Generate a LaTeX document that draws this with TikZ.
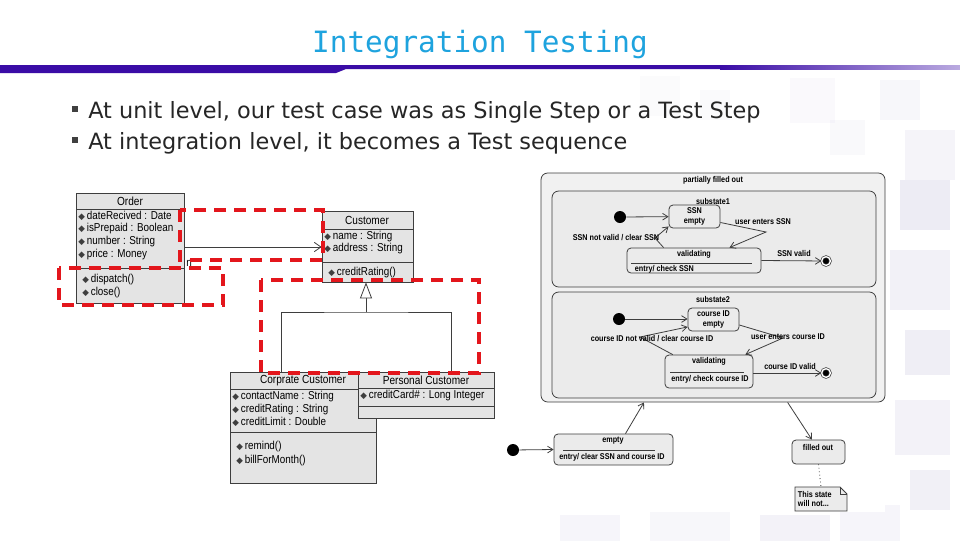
\documentclass[tikz,border=0pt]{standalone}
\usepackage{fontspec}
\usepackage{xcolor}
\usetikzlibrary{arrows.meta, positioning, fit, backgrounds}

\newfontfamily\titlefont{DejaVu Sans Mono}
\newfontfamily\bodyfont{DejaVu Sans}
\newfontfamily\umlfont[FakeStretch=0.86]{Liberation Sans}
\newfontfamily\symfont{DejaVu Sans}

\definecolor{titlecyan}{HTML}{1EA3DE}
\definecolor{barpurple}{HTML}{3A0CA6}
\definecolor{clsfill}{HTML}{E4E4E4}
\definecolor{clsline}{HTML}{3E3E3E}
\definecolor{stfill}{HTML}{EBEBEB}
\definecolor{redmark}{HTML}{E3161C}
\definecolor{mosaic}{HTML}{B9B4D6}

\newcommand{\attico}{{\symfont\fontsize{6.5}{6.5}\selectfont\color{clsline}◆}\,}

\begin{document}
\begin{tikzpicture}[x=0.75pt, y=-0.75pt,
  cls/.style={rectangle, draw=clsline, fill=clsfill, line width=0.6pt, inner sep=0pt},
  clsname/.style={font=\umlfont\fontsize{8.8}{10}\selectfont},
  clstext/.style={font=\umlfont\fontsize{8.6}{10}\selectfont, anchor=west, inner sep=0pt},
  sepline/.style={draw=clsline, line width=0.6pt},
  assoc/.style={-{Straight Barb[length=5pt, width=7pt]}, draw=clsline, line width=0.6pt},
  gen/.style={draw=clsline, line width=0.6pt},
  genhead/.style={-{Triangle[open, length=12pt, width=9pt, fill=white]}, draw=clsline, line width=0.6pt},
  redbox/.style={draw=redmark, line width=3pt, dash pattern=on 9pt off 6pt},
  state/.style={rectangle, rounded corners=3pt, draw=clsline, fill=stfill, line width=0.6pt, inner sep=0pt},
  initst/.style={circle, fill=black, minimum size=9pt, inner sep=0pt},
  finalst/.style={circle, fill=black, draw=black!80, double=white, double distance=1pt,
                  line width=0.5pt, minimum size=6.5pt, inner sep=0pt},
  trans/.style={-{Straight Barb[length=4pt, width=5pt]}, draw=clsline, line width=0.6pt},
  stlbl/.style={font=\umlfont\bfseries\fontsize{6.3}{7}\selectfont, inner sep=0.5pt},
  bullettext/.style={font=\bodyfont\fontsize{16.8}{20}\selectfont, text=black!85, anchor=west, inner sep=0pt},
  bulletsq/.style={rectangle, fill=black!75, minimum size=4pt, inner sep=0pt},
]
\useasboundingbox (0,0) rectangle (960,540);
\fill[white] (0,0) rectangle (960,540);

% faint mosaic of the slide background
\foreach \x/\y/\w/\o in {640/76/40/0.05, 700/90/30/0.06, 790/78/45/0.07, 830/120/35/0.08,
    880/80/40/0.10, 905/130/50/0.14, 900/180/50/0.25, 890/250/60/0.18,
    905/330/45/0.22, 895/400/55/0.16, 910/470/40/0.20, 560/515/60/0.12, 650/512/80/0.10,
    760/515/70/0.16, 840/505/60/0.12}
  \fill[mosaic, opacity=\o] (\x,\y) rectangle ++(\w,\w);
\fill[white] (72,170) rectangle (885,512);

% title and header bar
\node[font=\titlefont\fontsize{22}{26}\selectfont, text=titlecyan] (title) at (480,45) {Integration Testing};
\fill[barpurple] (0,65) -- (960,65) -- (960,69) -- (346,69) -- (336,73) -- (0,73) -- cycle;
\shade[left color=barpurple, right color=barpurple!35] (720,65) rectangle (960,69);

% bullets
\node[bulletsq] (sq1) at (75,109) {};
\node[bullettext] (bul1) at (88,112) {At unit level, our test case was as Single Step or a Test Step};
\node[bulletsq] (sq2) at (75,140) {};
\node[bullettext] (bul2) at (88,143) {At integration level, it becomes a Test sequence};

% class diagram
\node[cls, fit={(76,193) (184,303)}] (order) {};
\draw[sepline] (76,209) -- (184,209);
\draw[sepline] (76,268) -- (184,268);
\node[clsname] (orderN) at (130,201) {Order};
\node[clstext] (ordA1) at (78,216) {\attico dateRecived : Date};
\node[clstext] (ordA2) at (78,229) {\attico isPrepaid : Boolean};
\node[clstext] (ordA3) at (78,242) {\attico number : String};
\node[clstext] (ordA4) at (78,255) {\attico price : Money};
\node[clstext] (ordM1) at (82,280) {\attico dispatch()};
\node[clstext] (ordM2) at (82,293) {\attico close()};

\node[cls, fit={(322,211) (413,282)}] (customer) {};
\draw[sepline] (322,229) -- (413,229);
\draw[sepline] (322,262) -- (413,262);
\node[clsname] (custN) at (367,220) {Customer};
\node[clstext] (custA1) at (324,237) {\attico name : String};
\node[clstext] (custA2) at (324,249) {\attico address : String};
\node[clstext] (custM1) at (328,273) {\attico creditRating()};

\node[cls, fit={(230,372) (376,483)}] (corp) {};
\draw[sepline] (230,389) -- (376,389);
\draw[sepline] (230,432) -- (376,432);
\node[clsname] (corpN) at (303,381) {Corprate Customer};
\node[clstext] (corpA1) at (232,397) {\attico contactName : String};
\node[clstext] (corpA2) at (232,410) {\attico creditRating : String};
\node[clstext] (corpA3) at (232,422) {\attico creditLimit : Double};
\node[clstext] (corpM1) at (236,447) {\attico remind()};
\node[clstext] (corpM2) at (236,461) {\attico billForMonth()};

\node[cls, fit={(358,372) (494,418)}] (pers) {};
\draw[sepline] (358,388) -- (494,388);
\draw[sepline] (358,406) -- (494,406);
\node[clsname] (persN) at (426,380) {Personal Customer};
\node[clstext] (persA1) at (360,396) {\attico creditCard\# : Long Integer};

\draw[assoc] (order.east |- 0,247) -- (customer.west |- 0,247);
\node[clstext] (mult) at (186,263) {n};

\coordinate (genbar) at (366,312);
\draw[gen] (corp.north -| 281,0) |- (genbar) -| (pers.north -| 451,0);
\draw[genhead] (genbar) -- (customer.south -| genbar);

% highlighted parts
\draw[redbox] (180,210) rectangle (323,260);
\draw[redbox] (59,268) rectangle (223,305);
\draw[redbox] (261,280) rectangle (479,373);

% state diagram
\node[state, rounded corners=5pt, fill=stfill!70!white, fit={(541,173) (885,402)}] (psf) {};
\node[stlbl] (psfN) at (713,180) {partially filled out};

\node[state, rounded corners=5pt, fit={(552,191) (876,287)}] (sub1) {};
\node[stlbl] (sub1N) at (713,201) {substate1};
\node[state, fit={(669,205) (720,228)}] (ssn) {};
\node[stlbl, align=center] (ssnN) at (ssn.center) {SSN\\empty};
\node[initst] (i1) at (620,217) {};
\node[state, fit={(627,248) (761,273)}] (val1) {};
\node[stlbl] (val1N) at (694,254) {validating};
\draw[sepline] (631,263) -- (752,263);
\node[stlbl, anchor=west] (val1E) at (634,269) {entry/ check SSN};
\node[finalst] (f1) at (826,261) {};
\coordinate (k1) at (766,232);
\coordinate (k2) at (655,238);
\draw[trans] (i1) -- (ssn);
\draw[trans] (ssn.-13) -- (k1) -- (val1.20);
\draw[trans] (val1.157) -- (k2) -- (ssn.201);
\draw[trans] (val1.east) -- (f1);
\node[stlbl] (l1) at (763,222) {user enters SSN};
\node[stlbl] (l2) at (616,238) {SSN not valid / clear SSN};
\node[stlbl] (l3) at (794,253) {SSN valid};

\node[state, rounded corners=5pt, fit={(552,292) (876,398)}] (sub2) {};
\node[stlbl] (sub2N) at (713,299) {substate2};
\node[state, fit={(688,308) (739,331)}] (cid) {};
\node[stlbl, align=center] (cidN) at (cid.center) {course ID\\empty};
\node[initst] (i2) at (619,319) {};
\node[state, fit={(665,355) (753,388)}] (val2) {};
\node[stlbl] (val2N) at (709,361) {validating};
\draw[sepline] (670,372) -- (744,372);
\node[stlbl] (val2E) at (710,379) {entry/ check course ID};
\node[finalst] (f2) at (826,373) {};
\coordinate (k3) at (783,338);
\coordinate (k4) at (640,337);
\draw[trans] (i2) -- (cid.west |- i2);
\draw[trans] (cid.-12) -- (k3) -- (val2.25);
\draw[trans] (val2.155) -- (k4) -- (cid.196);
\draw[trans] (val2.east |- f2) -- (f2);
\node[stlbl] (l4) at (788,337) {user enters course ID};
\node[stlbl] (l5) at (652,339) {course ID not valid / clear course ID};
\node[stlbl] (l6) at (790,366) {course ID valid};

\node[state, fit={(554,434) (673,465)}] (empty) {};
\node[stlbl] (emptyN) at (613,441) {empty};
\draw[sepline] (563,450) -- (655,450);
\node[stlbl] (emptyE) at (612,457) {entry/ clear SSN and course ID};
\node[initst] (i3) at (513,450) {};
\draw[trans] (i3) -- (empty.west);
\draw[trans] (empty.53) -- (psf.239);

\node[state, fit={(792,440) (845,464)}] (filled) {};
\node[stlbl] (filledN) at (818,447) {filled out};
\draw[trans] (psf.-57) -- (filled.118);

\node[inner sep=0pt, fit={(795,487) (847,511)}] (note) {};
\draw[fill=stfill, draw=clsline, line width=0.6pt]
  (795,487) -- (840,487) -- (847,494) -- (847,511) -- (795,511) -- cycle;
\draw[draw=clsline, line width=0.5pt] (840,487) -- (840,494) -- (847,494);
\node[stlbl, anchor=north west, align=left] (noteT) at (797,490) {This state\\will not...};
\draw[dotted, draw=clsline, line width=0.6pt] (filled.south) -- (note.north);
\end{tikzpicture}
\end{document}
